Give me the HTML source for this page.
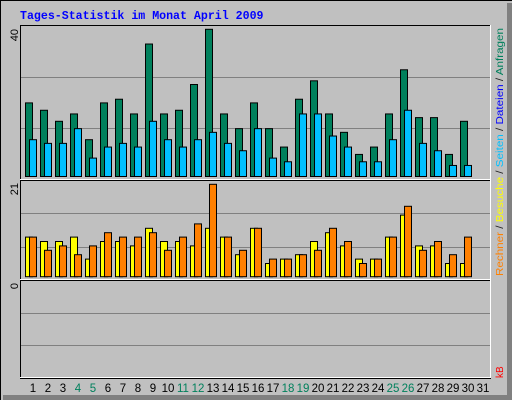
<!DOCTYPE html>
<html><head><meta charset="utf-8"><style>
html,body{margin:0;padding:0;background:#c0c0c0;overflow:hidden;}
svg{display:block;}
text{font-family:"Liberation Mono",monospace;}
</style></head><body>
<svg id="chart" width="512" height="400" viewBox="0 0 512 400">
  <rect x="0" y="0" width="512" height="400" fill="#c0c0c0"/>
  <line x1="0.5" y1="0" x2="0.5" y2="400" stroke="#000"/>
  <line x1="0" y1="0.5" x2="512" y2="0.5" stroke="#000"/>
  <rect x="507" y="3" width="5" height="397" fill="#808080"/>
  <rect x="3" y="395" width="509" height="5" fill="#808080"/>
  <text x="20" y="19" font-size="11.6" font-weight="bold" fill="#0000ff">Tages-Statistik im Monat April 2009</text>
  <g id="panels"></g>
  <g id="marks"></g>
  <g id="labels"></g>
  <g>
    <text transform="translate(503,276) rotate(-90)" font-size="10" textLength="248" lengthAdjust="spacingAndGlyphs" style="font-family:'Liberation Sans',sans-serif"><tspan fill="#ff8000">Rechner</tspan><tspan fill="#202020"> / </tspan><tspan fill="#ffff00">Besuche</tspan><tspan fill="#202020"> / </tspan><tspan fill="#00c0ff">Seiten</tspan><tspan fill="#202020"> / </tspan><tspan fill="#0000ff">Dateien</tspan><tspan fill="#202020"> / </tspan><tspan fill="#00805c">Anfragen</tspan></text>
    <text transform="translate(503,378) rotate(-90)" font-size="10" fill="#ff0000" style="font-family:'Liberation Sans',sans-serif">kB</text>
  </g>
</svg>
<script>
const days = [1,2,3,4,5,6,7,8,9,10,11,12,13,14,15,16,17,18,19,20,21,22,23,24,25,26,27,28,29,30,31];
const weekends = [4,5,11,12,18,19,25,26];
const anfragen = [20,18,15,17,10,20,21,17,36,17,18,25,40,17,13,20,13,8,21,26,17,12,6,8,17,29,16,16,6,15,0];
const dateien = [10,9,9,13,5,8,9,8,15,10,8,10,12,9,7,13,5,4,17,17,11,8,4,4,10,18,9,7,3,3,0];
const rechner = [9,8,8,9,4,8,8,7,11,8,8,7,11,9,5,11,3,4,5,8,10,7,4,4,9,14,7,7,3,3,0];
const besuche = [9,6,7,5,7,10,9,9,10,6,9,12,21,9,6,11,4,4,5,6,11,8,3,4,9,16,6,8,5,9,0];
const kb = [0,0,0,0,0,0,0,0,0,0,0,0,0,0,0,0,0,0,0,0,0,0,0,0,0,0,0,0,0,0,0];
const tickTop = ["40"], tickMid = ["21"], tickBot = ["0"];

const NS="http://www.w3.org/2000/svg";
function mk(tag, attrs, parent){const e=document.createElementNS(NS,tag);for(const k in attrs)e.setAttribute(k,attrs[k]);parent.appendChild(e);return e;}
const panels=document.getElementById('panels'), marks=document.getElementById('marks'), labels=document.getElementById('labels');
const P=[{y0:25,y1:180,base:176.5,top:29.3,max:40,name:'requests-panel'},
         {y0:180,y1:280,base:276.7,top:184.3,max:21,name:'visits-panel'},
         {y0:280,y1:378,base:378,top:284,max:0,name:'kb-panel'}];
P.forEach(p=>{
  const r=mk('rect',{x:20.5,y:p.y0+0.5,width:470,height:p.y1-p.y0,fill:'#c0c0c0',stroke:'none'},panels);
  
  
  const h=p.y1-p.y0;
  [1,2].forEach(k=>{const gy=Math.round(p.y0+h*k/3)+0.5;
    const g=mk('line',{x1:21,x2:490,y1:gy,y2:gy,stroke:'#808080'},panels);
    
    });
  mk('line',{x1:20.5,x2:20.5,y1:p.y0,y2:p.y1,stroke:'#000'},panels);
  mk('line',{x1:20,x2:491,y1:p.y0+0.5,y2:p.y0+0.5,stroke:'#000'},panels);
  mk('line',{x1:490.5,x2:490.5,y1:p.y0,y2:p.y1,stroke:'#fff'},panels);
  mk('line',{x1:20,x2:491,y1:p.y1-0.5,y2:p.y1-0.5,stroke:'#fff'},panels);
});
mk('line',{x1:20,x2:491,y1:378.5,y2:378.5,stroke:'#000'},panels);
function yS(p,v){return p.base-(p.base-p.top)*v/p.max;}
function xS(i){return 25+15*i;}
function bars(arr,p,dx,color,name){
  arr.forEach((v,i)=>{ if(v<=0)return;
    const y=yS(p,v);
    const b=mk('rect',{x:xS(i)+dx+0.5,y:y,width:7,height:p.base-y,fill:color,stroke:'#000','stroke-width':1},marks);
    
    
  });
}
bars(anfragen,P[0],0,'#00805c','bar-anfragen');
bars(dateien,P[0],4,'#00c0ff','bar-dateien');
bars(rechner,P[1],0,'#ffff00','bar-rechner');
bars(besuche,P[1],4,'#ff8000','bar-besuche');
days.forEach((d,i)=>{
  const t=mk('text',{x:xS(i)+8,y:392,'font-size':11.5,'text-anchor':'middle',style:"font-family:'Liberation Sans',sans-serif",fill:weekends.includes(d)?'#00805c':'#000'},labels);
  t.textContent=d;
  
  
});
[[tickTop[0],29],[tickMid[0],183],[tickBot[0],283]].forEach(([s,y])=>{
  const t=mk('text',{transform:`translate(18,${y}) rotate(-90)`,'font-size':11,'text-anchor':'end',style:"font-family:'Liberation Sans',sans-serif",fill:'#000'},labels);
  t.textContent=s;
  
  
});
</script>
</body></html>
